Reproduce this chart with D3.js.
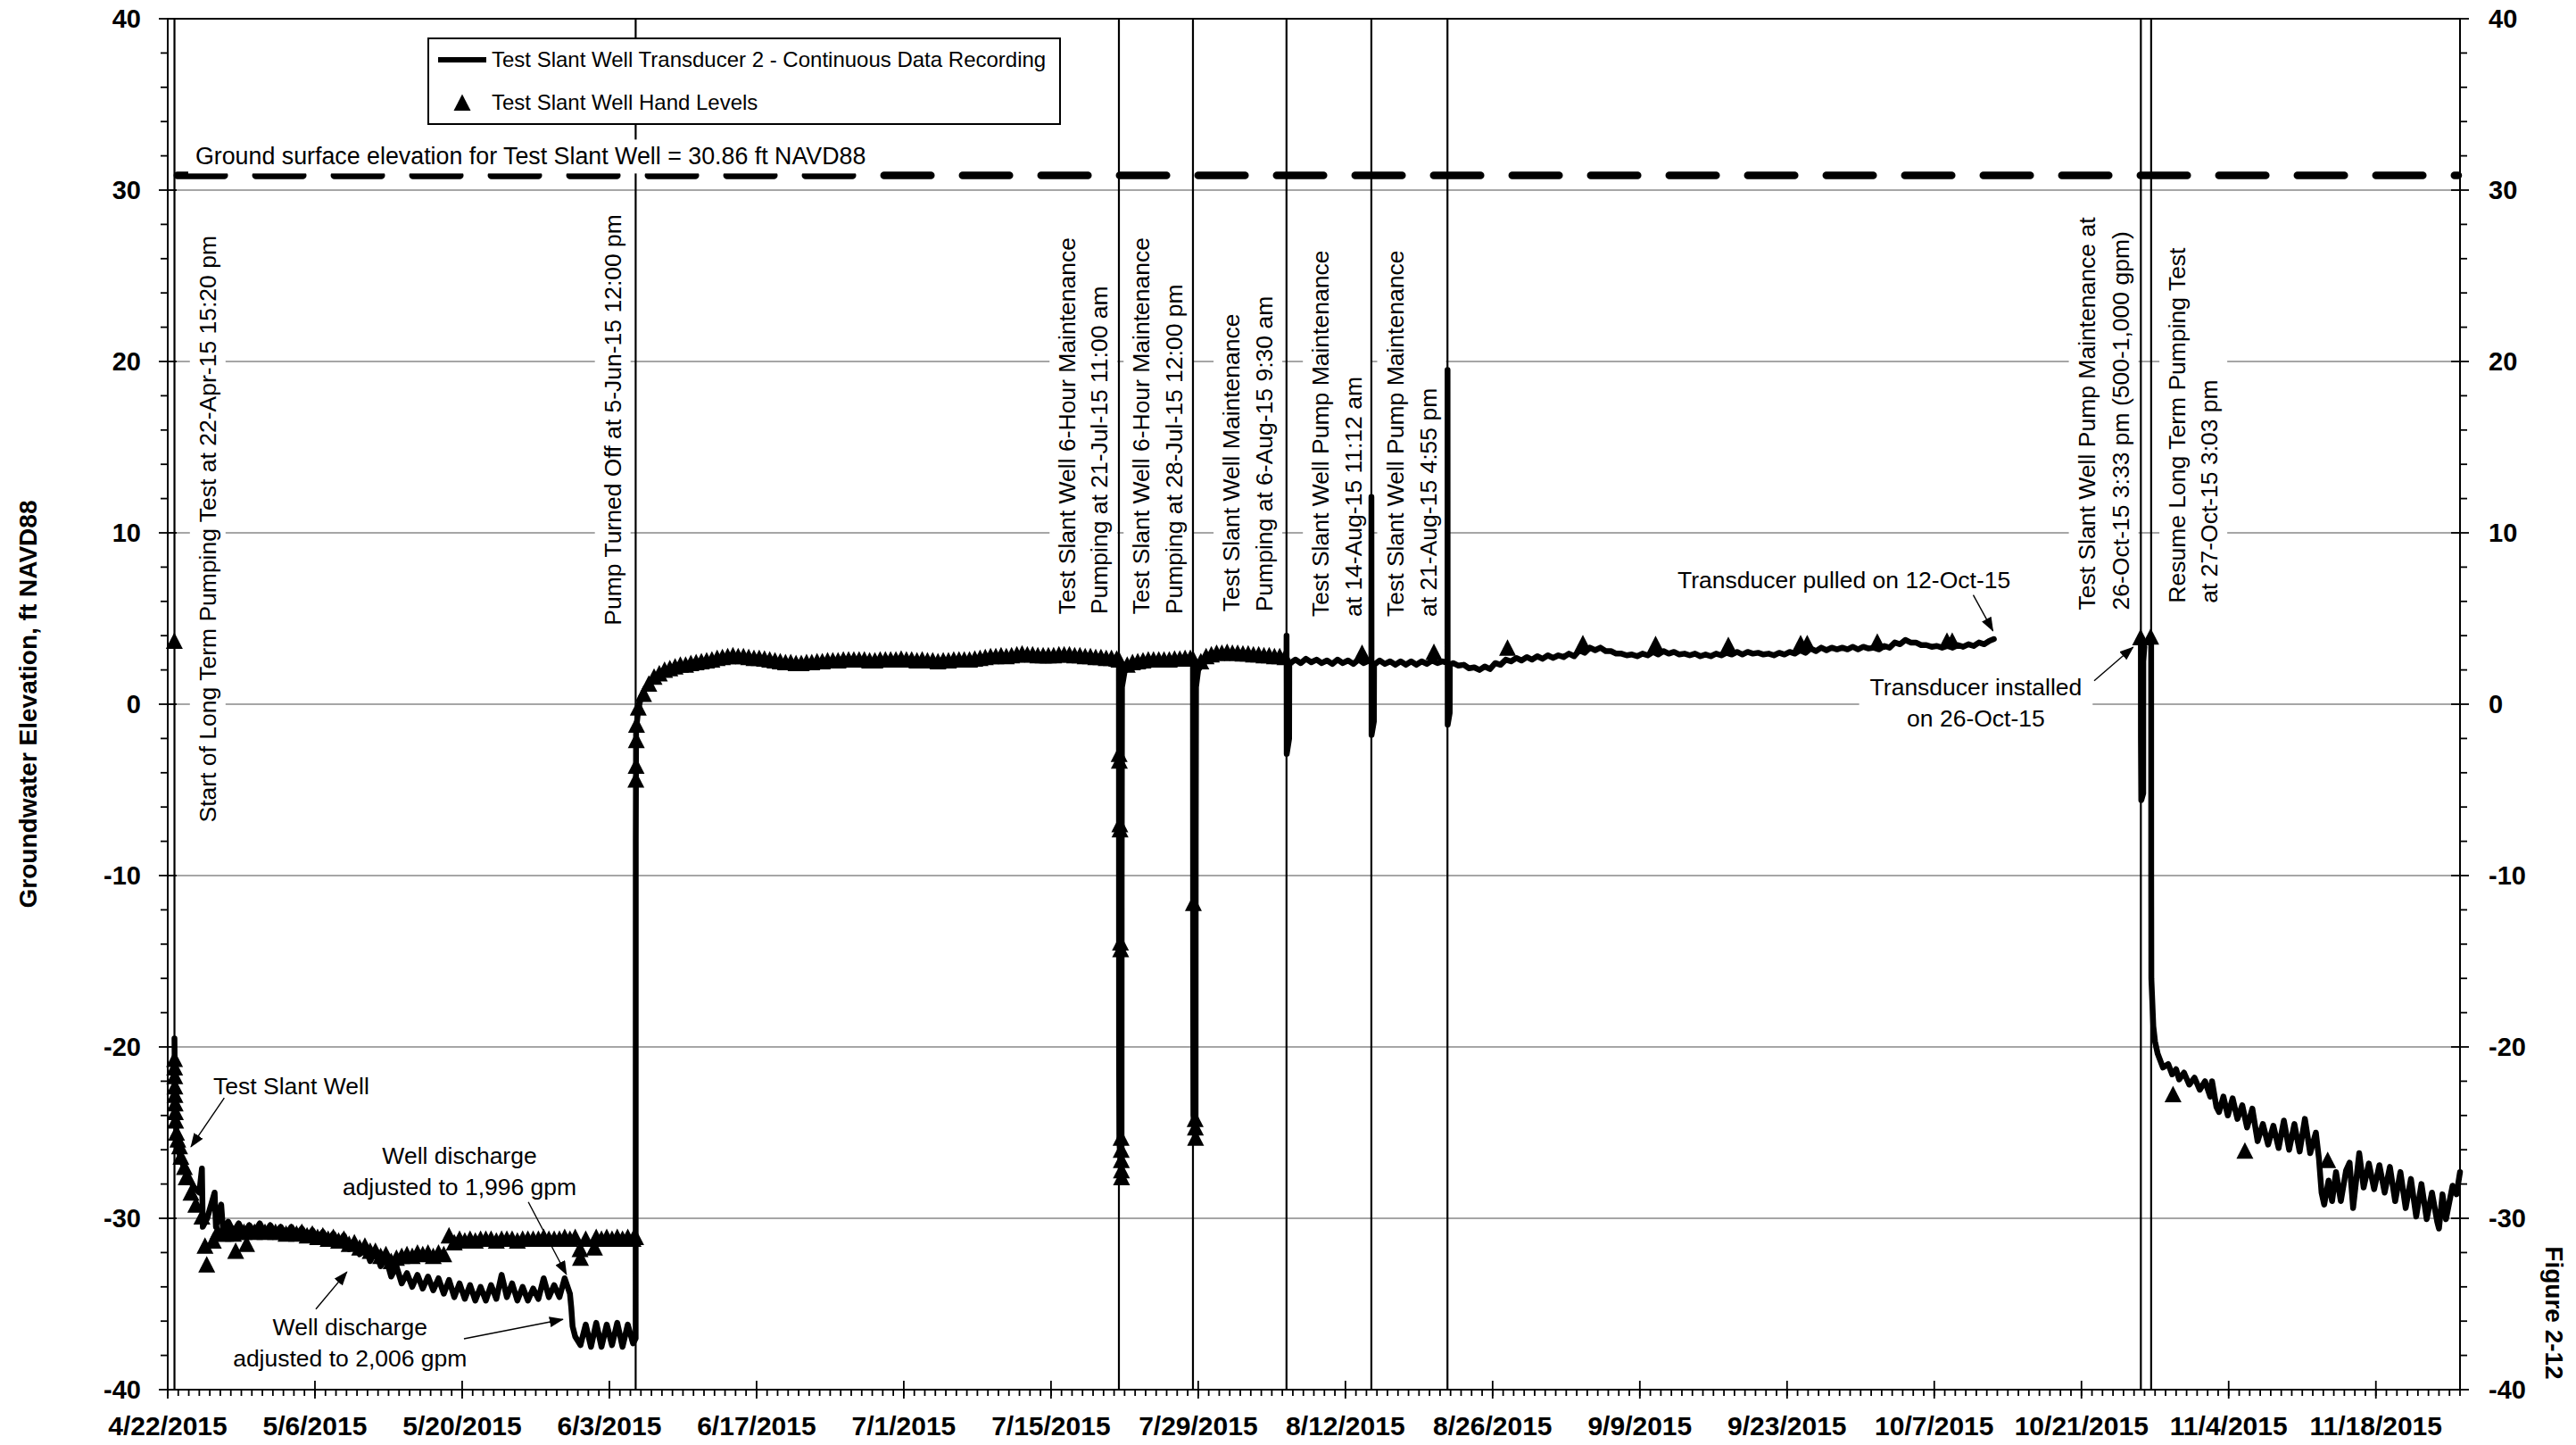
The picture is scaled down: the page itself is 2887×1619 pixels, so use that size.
<!DOCTYPE html>
<html><head><meta charset="utf-8">
<script src="https://cdn.jsdelivr.net/npm/d3@7"></script>
<style>
html,body{margin:0;padding:0;background:#fff;}
svg{display:block;}
text{font-family:"Liberation Sans",Arial,sans-serif;fill:#000;}
</style></head><body>
<svg id="chart" width="2887" height="1619"></svg>
<script>
// ---------------- DATA ----------------
const xDomain = ["4/22 00:00", "11/26 00:00"];
const yDomain = [-40, 40];
const yMajorTicks = [-40, -30, -20, -10, 0, 10, 20, 30, 40];
const xTickDates = ["4/22 00:00","5/6 00:00","5/20 00:00","6/3 00:00","6/17 00:00","7/1 00:00","7/15 00:00","7/29 00:00","8/12 00:00","8/26 00:00","9/9 00:00","9/23 00:00","10/7 00:00","10/21 00:00","11/4 00:00","11/18 00:00"];
const xTickLabels = ["4/22/2015","5/6/2015","5/20/2015","6/3/2015","6/17/2015","7/1/2015","7/15/2015","7/29/2015","8/12/2015","8/26/2015","9/9/2015","9/23/2015","10/7/2015","10/21/2015","11/4/2015","11/18/2015"];
const groundSurfaceElevation = 30.86;

// Test Slant Well Transducer 2 - continuous record, first deployment (to 12-Oct-15)
const transducerPart1 = [
["4/22 15:20",-19.5],["4/22 16:30",-23.5],["4/22 20:00",-25.0],
["4/23 00:00",-26.0],["4/23 12:00",-27.0],
["4/24 00:00",-27.6],["4/24 12:00",-28.2],
["4/25 00:00",-28.5],["4/25 06:00",-27.1],["4/25 08:00",-30.5],["4/25 18:00",-30.0],
["4/26 11:00",-28.5],["4/26 14:00",-30.5],
["4/27 02:00",-29.2],["4/27 06:00",-30.6],["4/27 18:00",-30.2],
["4/28 06:00",-30.8],["4/28 18:00",-30.3],
["4/29 06:00",-30.9],["4/29 18:00",-30.4],
["4/30 06:00",-30.8],["4/30 18:00",-30.3],
["5/1 06:00",-30.9],["5/1 18:00",-30.4],
["5/2 06:00",-30.9],["5/2 18:00",-30.5],
["5/3 06:00",-31.0],["5/3 18:00",-30.5],
["5/4 06:00",-31.0],["5/4 18:00",-30.6],
["5/5 06:00",-31.1],["5/5 18:00",-30.7],
["5/6 06:00",-31.2],["5/6 18:00",-30.8],
["5/7 06:00",-31.3],["5/7 18:00",-30.9],
["5/8 06:00",-31.5],["5/8 18:00",-31.0],
["5/9 06:00",-31.8],["5/9 18:00",-31.3],
["5/10 06:00",-32.1],["5/10 18:00",-31.6],
["5/11 06:00",-32.5],["5/11 18:00",-31.9],
["5/12 06:00",-32.8],["5/12 18:00",-32.3],
["5/13 06:00",-33.4],["5/13 18:00",-32.8],
["5/14 06:00",-33.8],["5/14 18:00",-33.2],
["5/15 06:00",-34.0],["5/15 18:00",-33.3],
["5/16 06:00",-34.1],["5/16 18:00",-33.4],
["5/17 06:00",-34.2],["5/17 18:00",-33.5],
["5/18 06:00",-34.4],["5/18 18:00",-33.6],
["5/19 06:00",-34.6],["5/19 18:00",-33.8],
["5/20 06:00",-34.7],["5/20 18:00",-33.9],
["5/21 06:00",-34.8],["5/21 18:00",-34.0],
["5/22 06:00",-34.8],["5/22 18:00",-33.9],
["5/23 06:00",-34.7],["5/23 18:00",-33.3],
["5/24 06:00",-34.6],["5/24 18:00",-33.8],
["5/25 06:00",-34.8],["5/25 18:00",-34.0],
["5/26 06:00",-34.8],["5/26 18:00",-34.1],
["5/27 06:00",-34.7],["5/27 18:00",-33.5],
["5/28 06:00",-34.6],["5/28 18:00",-33.9],
["5/29 06:00",-34.6],["5/29 18:00",-33.5],
["5/30 06:00",-34.4],["5/30 09:00",-35.2],["5/30 12:00",-36.3],["5/30 18:00",-36.9],
["5/31 06:00",-37.4],["5/31 18:00",-36.2],
["6/1 06:00",-37.5],["6/1 18:00",-36.1],
["6/2 06:00",-37.5],["6/2 18:00",-36.2],
["6/3 06:00",-37.4],["6/3 18:00",-36.1],
["6/4 06:00",-37.5],["6/4 18:00",-36.2],
["6/5 06:00",-37.3],["6/5 12:00",-37.0],["6/5 12:15",-8.0],["6/5 13:00",-1.5],["6/5 18:00",-0.3],
["6/6 00:00",0.4],["6/6 12:00",1.0],["6/7 00:00",1.4],["6/7 12:00",1.6],
["6/8 00:00",1.8],["6/8 12:00",1.9],["6/9 00:00",2.0],["6/9 12:00",2.0],
["6/10 00:00",2.1],["6/10 12:00",2.1],
["6/11 00:00",2.25],["6/12 00:00",2.35],["6/13 00:00",2.45],["6/14 00:00",2.55],["6/15 00:00",2.55],
["6/16 00:00",2.5],["6/17 00:00",2.45],["6/18 00:00",2.35],["6/19 00:00",2.25],["6/20 00:00",2.2],
["6/21 00:00",2.2],["6/22 00:00",2.25],["6/23 00:00",2.3],["6/24 00:00",2.35],["6/25 00:00",2.4],
["6/26 00:00",2.4],["6/27 00:00",2.4],["6/28 00:00",2.35],["6/29 00:00",2.35],["6/30 00:00",2.4],
["7/1 00:00",2.4],["7/2 00:00",2.35],["7/3 00:00",2.35],["7/4 00:00",2.3],["7/5 00:00",2.3],
["7/6 00:00",2.35],["7/7 00:00",2.35],["7/8 00:00",2.4],["7/9 00:00",2.55],["7/10 00:00",2.55],
["7/11 00:00",2.6],["7/12 00:00",2.6],["7/13 00:00",2.6],["7/14 00:00",2.55],["7/15 00:00",2.55],
["7/16 00:00",2.6],["7/17 00:00",2.6],["7/18 00:00",2.55],["7/19 00:00",2.5],["7/20 00:00",2.45],
["7/21 00:00",2.4],["7/21 11:00",2.35],["7/21 11:20",-20.0],["7/21 12:00",-25.5],["7/21 17:00",-27.8],["7/21 17:20",-10.0],["7/21 18:00",1.0],
["7/22 00:00",1.9],["7/22 12:00",2.2],["7/23 00:00",2.3],["7/24 00:00",2.35],["7/25 00:00",2.35],["7/26 00:00",2.4],["7/27 00:00",2.4],
["7/28 00:00",2.45],["7/28 12:00",2.45],["7/28 12:20",-15.0],["7/28 13:00",-24.0],["7/28 18:00",-25.4],["7/28 18:20",-8.0],["7/28 19:00",1.0],
["7/29 00:00",2.0],["7/29 12:00",2.4],["7/30 00:00",2.6],["7/31 00:00",2.75],["8/1 00:00",2.85],["8/2 00:00",2.8],["8/3 00:00",2.75],["8/4 00:00",2.7],["8/5 00:00",2.6],
["8/6 00:00",2.55],["8/6 09:30",2.5],["8/6 09:40",4.0],["8/6 10:00",-2.9],["8/6 15:30",-2.0],["8/6 15:50",2.3],["8/6 18:00",2.4],
["8/7 06:00",2.6],["8/7 18:00",2.4],["8/8 06:00",2.65],["8/8 18:00",2.45],
["8/9 06:00",2.6],["8/9 18:00",2.4],["8/10 06:00",2.55],["8/10 18:00",2.35],
["8/11 06:00",2.6],["8/11 18:00",2.4],["8/12 06:00",2.55],["8/12 18:00",2.35],
["8/13 06:00",2.6],["8/13 18:00",2.4],
["8/14 06:00",2.55],["8/14 11:12",2.5],["8/14 11:20",12.1],["8/14 11:40",-1.8],["8/14 17:00",-1.0],["8/14 17:20",2.3],
["8/15 06:00",2.55],["8/15 18:00",2.35],["8/16 06:00",2.5],["8/16 18:00",2.3],
["8/17 06:00",2.5],["8/17 18:00",2.3],["8/18 06:00",2.5],["8/18 18:00",2.3],
["8/19 06:00",2.5],["8/19 18:00",2.35],["8/20 06:00",2.55],["8/20 18:00",2.4],
["8/21 06:00",2.5],["8/21 16:55",2.4],["8/21 17:05",19.5],["8/21 17:25",-1.2],["8/21 22:00",-0.5],["8/21 22:20",2.3],
["8/22 06:00",2.4],["8/22 18:00",2.25],["8/23 06:00",2.3],["8/23 18:00",2.1],
["8/24 06:00",2.15],["8/24 18:00",2.0],["8/25 06:00",2.2],["8/25 18:00",2.05],
["8/26 06:00",2.4],["8/26 18:00",2.3],["8/27 06:00",2.6],["8/27 18:00",2.5],
["8/28 06:00",2.7],["8/28 18:00",2.55],["8/29 06:00",2.75],["8/29 18:00",2.6],
["8/30 06:00",2.8],["8/30 18:00",2.65],["8/31 06:00",2.85],["8/31 18:00",2.7],
["9/1 06:00",2.85],["9/1 18:00",2.75],["9/2 06:00",2.95],["9/2 18:00",2.8],
["9/3 06:00",3.15],["9/3 18:00",3.0],["9/4 06:00",3.3],["9/4 18:00",3.15],
["9/5 06:00",3.3],["9/5 18:00",3.1],["9/6 06:00",3.1],["9/6 18:00",2.95],
["9/7 06:00",2.95],["9/7 18:00",2.85],["9/8 06:00",2.9],["9/8 18:00",2.8],
["9/9 06:00",2.95],["9/9 18:00",2.85],["9/10 06:00",3.05],["9/10 18:00",2.9],
["9/11 06:00",3.1],["9/11 18:00",2.95],["9/12 06:00",3.05],["9/12 18:00",2.9],
["9/13 06:00",2.95],["9/13 18:00",2.85],["9/14 06:00",2.95],["9/14 18:00",2.8],
["9/15 06:00",2.9],["9/15 18:00",2.8],["9/16 06:00",2.95],["9/16 18:00",2.85],
["9/17 06:00",3.0],["9/17 18:00",2.9],["9/18 06:00",3.05],["9/18 18:00",2.9],
["9/19 06:00",3.05],["9/19 18:00",2.95],["9/20 06:00",3.0],["9/20 18:00",2.9],
["9/21 06:00",2.95],["9/21 18:00",2.85],["9/22 06:00",3.0],["9/22 18:00",2.9],
["9/23 06:00",3.05],["9/23 18:00",2.95],["9/24 06:00",3.15],["9/24 18:00",3.0],
["9/25 06:00",3.25],["9/25 18:00",3.1],["9/26 06:00",3.3],["9/26 18:00",3.15],
["9/27 06:00",3.3],["9/27 18:00",3.2],["9/28 06:00",3.3],["9/28 18:00",3.2],
["9/29 06:00",3.35],["9/29 18:00",3.2],["9/30 06:00",3.35],["9/30 18:00",3.25],
["10/1 06:00",3.3],["10/1 18:00",3.2],["10/2 06:00",3.4],["10/2 18:00",3.3],
["10/3 06:00",3.6],["10/3 18:00",3.5],["10/4 06:00",3.75],["10/4 18:00",3.6],
["10/5 06:00",3.6],["10/5 18:00",3.45],["10/6 06:00",3.45],["10/6 18:00",3.35],
["10/7 06:00",3.4],["10/7 18:00",3.3],["10/8 06:00",3.4],["10/8 18:00",3.3],
["10/9 06:00",3.45],["10/9 18:00",3.35],["10/10 06:00",3.5],["10/10 18:00",3.4],
["10/11 06:00",3.6],["10/11 18:00",3.5],["10/12 06:00",3.7],["10/12 16:00",3.8]
];

// second deployment (installed 26-Oct-15)
const transducerPart2 = [
["10/26 12:00",3.7],["10/26 15:33",3.8],["10/26 15:40",-2.0],["10/26 16:30",-5.6],["10/26 21:00",-5.2],["10/26 21:10",2.5],
["10/27 00:00",3.5],["10/27 12:00",3.8],["10/27 15:03",3.9],["10/27 15:10",-10.0],["10/27 15:30",-16.0],["10/27 20:00",-18.8],
["10/28 00:00",-19.7],["10/28 06:00",-20.4],["10/28 12:00",-20.8],["10/28 18:00",-21.2],
["10/29 06:00",-21.0],["10/29 15:00",-21.6],
["10/30 00:00",-21.3],["10/30 07:00",-21.9],["10/30 18:00",-21.5],
["10/31 06:00",-22.2],["10/31 18:00",-21.8],
["11/1 06:00",-22.5],["11/1 18:00",-22.0],
["11/2 06:00",-22.9],["11/2 10:00",-22.0],["11/2 20:00",-23.5],
["11/3 02:00",-23.8],["11/3 12:00",-22.9],["11/3 22:00",-24.0],
["11/4 09:00",-23.0],["11/4 20:00",-24.2],
["11/5 07:00",-23.4],["11/5 18:00",-24.7],
["11/6 06:00",-23.6],["11/6 18:00",-25.5],
["11/7 06:00",-24.5],["11/7 18:00",-25.7],
["11/8 06:00",-24.6],["11/8 18:00",-25.9],
["11/9 06:00",-24.3],["11/9 18:00",-26.0],
["11/10 06:00",-24.5],["11/10 18:00",-26.1],
["11/11 06:00",-24.2],["11/11 18:00",-26.2],
["11/12 07:00",-25.0],["11/12 14:00",-26.5],["11/12 20:00",-28.5],
["11/13 02:00",-29.2],["11/13 12:00",-27.8],["11/13 20:00",-29.0],
["11/14 05:00",-27.3],["11/14 16:00",-29.0],
["11/15 04:00",-27.2],["11/15 12:00",-26.75],["11/15 20:00",-29.4],
["11/16 10:00",-26.2],["11/16 20:00",-28.2],
["11/17 08:00",-26.8],["11/17 20:00",-28.3],
["11/18 08:00",-26.9],["11/18 20:00",-28.5],
["11/19 08:00",-27.0],["11/19 20:00",-29.0],
["11/20 08:00",-27.3],["11/20 20:00",-29.4],
["11/21 08:00",-27.7],["11/21 20:00",-29.9],
["11/22 08:00",-28.0],["11/22 20:00",-30.05],
["11/23 08:00",-28.5],["11/23 20:00",-30.2],
["11/24 00:00",-30.6],["11/24 08:00",-28.6],["11/24 16:00",-30.05],
["11/25 07:00",-28.1],["11/25 16:00",-28.6],
["11/26 00:00",-27.3]
];

// Test Slant Well hand levels
const handLevels = [
["4/22 15:00",3.7],
["4/22 15:30",-20.7],["4/22 15:45",-21.2],["4/22 16:00",-21.7],["4/22 16:15",-22.3],["4/22 16:30",-22.8],["4/22 17:00",-23.3],["4/22 17:30",-23.8],["4/22 18:00",-24.3],
["4/22 20:00",-25.0],["4/22 23:00",-25.4],["4/23 03:00",-25.8],["4/23 06:00",-26.4],["4/23 14:00",-27.0],["4/23 18:00",-27.6],
["4/24 05:00",-28.5],["4/24 16:00",-29.2],["4/25 06:00",-29.9],["4/25 13:00",-31.6],["4/25 17:00",-32.7],
["4/26 08:00",-31.3],["4/26 18:00",-30.8],["4/27 06:00",-30.9],["4/27 12:00",-30.9],["4/27 18:00",-30.7],
["4/28 06:00",-30.9],["4/28 11:00",-31.9],["4/28 18:00",-30.8],["4/29 06:00",-30.8],["4/29 12:00",-31.5],["4/29 18:00",-30.7],
["4/30 06:00",-30.8],["4/30 18:00",-30.7],["5/1 06:00",-30.8],["5/1 18:00",-30.7],
["5/2 06:00",-30.8],["5/2 18:00",-30.8],["5/3 06:00",-30.9],["5/3 18:00",-30.8],
["5/4 06:00",-30.9],["5/4 18:00",-30.8],["5/5 06:00",-31.0],["5/5 18:00",-30.9],
["5/6 06:00",-31.1],["5/6 18:00",-31.0],["5/7 06:00",-31.2],["5/7 18:00",-31.1],
["5/8 06:00",-31.3],["5/8 18:00",-31.2],["5/9 06:00",-31.5],["5/9 18:00",-31.4],
["5/10 06:00",-31.7],["5/10 18:00",-31.6],["5/11 06:00",-31.9],["5/11 18:00",-31.9],
["5/12 06:00",-32.2],["5/12 18:00",-32.1],["5/13 06:00",-32.5],["5/13 18:00",-32.3],
["5/14 06:00",-32.2],["5/14 18:00",-32.1],["5/15 06:00",-32.2],["5/15 18:00",-32.0],
["5/16 06:00",-32.1],["5/16 18:00",-32.0],["5/17 06:00",-32.2],["5/17 18:00",-32.0],
["5/18 06:00",-32.1],["5/18 18:00",-31.0],["5/19 06:00",-31.4],["5/19 18:00",-31.2],
["5/20 06:00",-31.3],["5/20 18:00",-31.2],["5/21 06:00",-31.3],["5/21 18:00",-31.2],
["5/22 06:00",-31.2],["5/22 18:00",-31.2],["5/23 06:00",-31.3],["5/23 18:00",-31.2],
["5/24 06:00",-31.2],["5/24 18:00",-31.2],["5/25 06:00",-31.3],["5/25 18:00",-31.2],
["5/26 06:00",-31.2],["5/26 18:00",-31.2],["5/27 06:00",-31.2],["5/27 18:00",-31.1],
["5/28 06:00",-31.2],["5/28 18:00",-31.2],["5/29 06:00",-31.2],["5/29 18:00",-31.1],
["5/30 06:00",-31.2],["5/30 18:00",-31.1],["5/31 05:00",-31.8],["5/31 06:00",-32.3],["5/31 18:00",-31.2],
["6/1 14:00",-31.7],["6/1 18:00",-31.1],["6/2 06:00",-31.2],["6/2 18:00",-31.1],
["6/3 06:00",-31.2],["6/3 18:00",-31.1],["6/4 06:00",-31.2],["6/4 18:00",-31.1],
["6/5 06:00",-31.2],["6/5 12:00",-31.1],
["6/5 12:30",-4.4],["6/5 13:00",-3.6],["6/5 13:30",-2.1],["6/5 14:00",-1.2],["6/5 18:00",-0.2],
["6/6 06:00",0.6],["6/6 18:00",1.2],["6/7 06:00",1.6],["6/7 18:00",1.8],
["6/8 06:00",2.0],["6/8 18:00",2.1],["6/9 06:00",2.2],["6/9 18:00",2.3],
["6/10 06:00",2.3],["6/10 18:00",2.4],["6/11 06:00",2.45],["6/11 18:00",2.5],
["6/12 06:00",2.55],["6/12 18:00",2.6],["6/13 06:00",2.7],["6/13 18:00",2.75],
["6/14 06:00",2.8],["6/14 18:00",2.85],["6/15 06:00",2.8],["6/15 18:00",2.8],
["6/16 06:00",2.75],["6/16 18:00",2.7],["6/17 06:00",2.7],["6/17 18:00",2.65],
["6/18 06:00",2.6],["6/18 18:00",2.55],["6/19 06:00",2.5],["6/19 18:00",2.45],
["6/20 06:00",2.45],["6/20 18:00",2.4],["6/21 06:00",2.4],["6/21 18:00",2.45],
["6/22 06:00",2.45],["6/22 18:00",2.5],["6/23 06:00",2.5],["6/23 18:00",2.55],
["6/24 06:00",2.55],["6/24 18:00",2.55],["6/25 06:00",2.6],["6/25 18:00",2.6],
["6/26 06:00",2.6],["6/26 18:00",2.6],["6/27 06:00",2.6],["6/27 18:00",2.55],
["6/28 06:00",2.55],["6/28 18:00",2.6],["6/29 06:00",2.6],["6/29 18:00",2.6],
["6/30 06:00",2.6],["6/30 18:00",2.65],["7/1 06:00",2.6],["7/1 18:00",2.6],
["7/2 06:00",2.55],["7/2 18:00",2.6],["7/3 06:00",2.55],["7/3 18:00",2.55],
["7/4 06:00",2.5],["7/4 18:00",2.55],["7/5 06:00",2.55],["7/5 18:00",2.6],
["7/6 06:00",2.6],["7/6 18:00",2.6],["7/7 06:00",2.6],["7/7 18:00",2.65],
["7/8 06:00",2.7],["7/8 18:00",2.75],["7/9 06:00",2.8],["7/9 18:00",2.8],
["7/10 06:00",2.85],["7/10 18:00",2.8],["7/11 06:00",2.85],["7/11 18:00",2.9],
["7/12 06:00",2.95],["7/12 18:00",2.9],["7/13 06:00",2.9],["7/13 18:00",2.85],
["7/14 06:00",2.85],["7/14 18:00",2.85],["7/15 06:00",2.85],["7/15 18:00",2.9],
["7/16 06:00",2.9],["7/16 18:00",2.9],["7/17 06:00",2.85],["7/17 18:00",2.85],
["7/18 06:00",2.8],["7/18 18:00",2.8],["7/19 06:00",2.75],["7/19 18:00",2.75],
["7/20 06:00",2.7],["7/20 18:00",2.7],["7/21 06:00",2.65],["7/21 11:00",2.6],
["7/21 11:30",-2.9],["7/21 12:00",-3.3],["7/21 13:00",-7.0],["7/21 13:30",-7.3],["7/21 14:30",-13.9],["7/21 15:00",-14.3],
["7/21 16:00",-25.3],["7/21 16:15",-26.0],["7/21 16:30",-26.6],["7/21 16:45",-27.2],["7/21 17:00",-27.6],
["7/22 06:00",2.3],["7/22 18:00",2.45],["7/23 06:00",2.5],["7/23 18:00",2.55],
["7/24 06:00",2.6],["7/24 18:00",2.6],["7/25 06:00",2.6],["7/25 18:00",2.6],
["7/26 06:00",2.6],["7/26 18:00",2.65],["7/27 06:00",2.65],["7/27 18:00",2.7],
["7/28 06:00",2.7],["7/28 12:00",2.65],
["7/28 13:00",-11.6],["7/28 17:00",-24.2],["7/28 17:30",-24.7],["7/28 18:00",-25.3],
["7/29 06:00",2.5],["7/29 18:00",2.8],["7/30 06:00",2.9],["7/30 18:00",3.0],
["7/31 06:00",3.0],["7/31 18:00",3.05],["8/1 06:00",3.0],["8/1 18:00",3.0],
["8/2 06:00",2.95],["8/2 18:00",2.95],["8/3 06:00",2.9],["8/3 18:00",2.9],
["8/4 06:00",2.85],["8/4 18:00",2.85],["8/5 06:00",2.8],["8/5 18:00",2.8],
["8/6 06:00",2.75],
["8/13 14:00",3.0],["8/20 10:00",3.05],["8/27 10:00",3.3],["9/3 14:00",3.55],
["9/10 12:00",3.5],["9/17 10:00",3.45],["9/24 07:00",3.55],["9/24 22:00",3.55],
["10/1 14:00",3.65],["10/8 05:00",3.7],["10/8 17:00",3.7],
["10/26 15:00",3.9],["10/27 14:00",3.95],
["10/29 17:00",-22.76],["11/5 13:00",-26.05],["11/13 10:00",-26.6]
];

// Pumping events (vertical lines) and their labels
const eventTimes = ["4/22 15:20","6/5 12:00","7/21 11:00","7/28 12:00","8/6 09:30","8/14 11:12","8/21 16:55","10/26 15:33","10/27 15:03"];
const eventLabels = [
  ["Start of Long Term Pumping Test at 22-Apr-15 15:20 pm"],
  ["Pump Turned Off at 5-Jun-15 12:00 pm"],
  ["Test Slant Well 6-Hour Maintenance","Pumping at 21-Jul-15 11:00 am"],
  ["Test Slant Well 6-Hour Maintenance","Pumping at 28-Jul-15 12:00 pm"],
  ["Test Slant Well Maintenance","Pumping at 6-Aug-15 9:30 am"],
  ["Test Slant Well Pump Maintenance","at 14-Aug-15 11:12 am"],
  ["Test Slant Well Pump Maintenance","at 21-Aug-15 4:55 pm"],
  ["Test Slant Well Pump Maintenance at","26-Oct-15 3:33 pm (500-1,000 gpm)"],
  ["Resume Long Term Pumping Test","at 27-Oct-15 3:03 pm"]
];
const eventLabelStartLevels = [-6.9, 4.6, 5.25, 5.25, 5.4, 5.1, 5.1, 5.5, 5.9];

// Callout notes (text centre in data units) and arrows
const noteTexts = [["Test Slant Well"],["Well discharge","adjusted to 1,996 gpm"],["Well discharge","adjusted to 2,006 gpm"],["Transducer pulled on 12-Oct-15"],["Transducer installed","on 26-Oct-15"]];
const noteTimes = ["5/3 18:00","5/19 18:00","5/9 08:00","9/28 10:00","10/10 23:00"];
const noteLevels = [-22.3, -26.35, -36.34, 7.24, 0.99];
const arrowFrom = [["4/27 09:00",-22.97],["5/26 07:00",-29.05],["5/6 02:00",-35.3],["5/20 04:00",-37.03],["10/10 17:00",6.37],["10/22 05:00",1.37]];
const arrowTo   = [["4/24 05:00",-25.83],["5/29 22:00",-33.28],["5/9 01:00",-33.13],["5/29 14:00",-35.9],["10/12 14:00",4.28],["10/25 22:00",3.33]];

const legendLabels = ["Test Slant Well Transducer 2 - Continuous Data Recording","Test Slant Well Hand Levels"];
const groundLabel = "Ground surface elevation for Test Slant Well = 30.86 ft NAVD88";
const yTitle = "Groundwater Elevation, ft NAVD88";
const figureLabel = "Figure 2-12";

// ---------------- LAYOUT ----------------
const parseT = s => { const [md, hm] = s.split(" "); const [m, d] = md.split("/").map(Number); const [h, mi] = hm.split(":").map(Number); return new Date(Date.UTC(2015, m - 1, d, h, mi)); };
const P = {left: 188, right: 2757, top: 21, bottom: 1557};
const x = d3.scaleUtc().domain(xDomain.map(parseT)).range([P.left, P.right]);
const y = d3.scaleLinear().domain(yDomain).range([P.bottom, P.top]);
const svg = d3.select("#chart");
svg.append("rect").attr("width", 2887).attr("height", 1619).attr("fill", "#fff");

const defs = svg.append("defs");
defs.append("marker").attr("id", "ah").attr("markerUnits", "userSpaceOnUse")
  .attr("markerWidth", 16).attr("markerHeight", 12).attr("refX", 15).attr("refY", 6).attr("orient", "auto")
  .append("path").attr("d", "M0,0 L16,6 L0,12 Z").attr("fill", "#000");

// gridlines
svg.append("g").selectAll("line").data(yMajorTicks.filter(v => v > -40 && v < 40)).join("line")
  .attr("x1", P.left).attr("x2", P.right).attr("y1", d => y(d)).attr("y2", d => y(d))
  .attr("stroke", "#a6a6a6").attr("stroke-width", 1.8);

// rotated event labels with white boxes
const labelOffsets = [[37], [-26], [-58, -22], [-58, -21], [-62, -25], [-57, -20], [-59, -22], [-61, -23], [29, 65]];
const lblLayer = svg.append("g");
eventTimes.forEach((t, i) => {
  const g = lblLayer.append("g").attr("transform", `translate(${x(parseT(t))},${y(eventLabelStartLevels[i])}) rotate(-90)`);
  const bg = g.append("rect").attr("fill", "#fff");
  const texts = eventLabels[i].map((ln, j) => g.append("text").attr("x", 0).attr("y", labelOffsets[i][j]).attr("dy", "0.35em")
    .attr("font-size", 26.5).text(ln));
  let x0 = Infinity, y0 = Infinity, x1 = -Infinity, y1 = -Infinity;
  texts.forEach(tx => { const b = tx.node().getBBox(); x0 = Math.min(x0, b.x); y0 = Math.min(y0, b.y); x1 = Math.max(x1, b.x + b.width); y1 = Math.max(y1, b.y + b.height); });
  bg.attr("x", x0 - 10).attr("y", y0 - 5).attr("width", x1 - x0 + 20).attr("height", y1 - y0 + 10);
});

// callout notes
const noteLayer = svg.append("g");
noteTexts.forEach((lines, i) => {
  const g = noteLayer.append("g").attr("transform", `translate(${x(parseT(noteTimes[i]))},${y(noteLevels[i])})`);
  const bg = g.append("rect").attr("fill", "#fff");
  const texts = lines.map((ln, j) => g.append("text").attr("x", 0).attr("y", j * 35).attr("dy", "0.35em")
    .attr("text-anchor", "middle").attr("font-size", 26.5).text(ln));
  let x0 = Infinity, y0 = Infinity, x1 = -Infinity, y1 = -Infinity;
  texts.forEach(tx => { const b = tx.node().getBBox(); x0 = Math.min(x0, b.x); y0 = Math.min(y0, b.y); x1 = Math.max(x1, b.x + b.width); y1 = Math.max(y1, b.y + b.height); });
  bg.attr("x", x0 - 12).attr("y", y0 - 3).attr("width", x1 - x0 + 24).attr("height", y1 - y0 + 6);
});

// event vertical lines
svg.append("g").selectAll("line").data(eventTimes).join("line")
  .attr("x1", d => x(parseT(d))).attr("x2", d => x(parseT(d))).attr("y1", P.top).attr("y2", P.bottom)
  .attr("stroke", "#000").attr("stroke-width", 2.2);

// ground surface dashed line
svg.append("line").attr("x1", x(parseT("4/22 22:00"))).attr("x2", P.right - 2)
  .attr("y1", y(groundSurfaceElevation)).attr("y2", y(groundSurfaceElevation))
  .attr("stroke", "#000").attr("stroke-width", 8.5).attr("stroke-linecap", "round").attr("stroke-dasharray", "52.5 35.5");

// transducer line
const lineGen = d3.line().x(d => x(parseT(d[0]))).y(d => y(d[1]));
[transducerPart1, transducerPart2].forEach(seg => {
  svg.append("path").attr("d", lineGen(seg)).attr("fill", "none").attr("stroke", "#000")
    .attr("stroke-width", 6.5).attr("stroke-linejoin", "round").attr("stroke-linecap", "round");
});

// hand level triangles
const tri = "M0,-9.5 L9.5,9 L-9.5,9 Z";
svg.append("g").selectAll("path").data(handLevels).join("path")
  .attr("transform", d => `translate(${x(parseT(d[0]))},${y(d[1])})`).attr("d", tri).attr("fill", "#000");

// arrows
svg.append("g").selectAll("line").data(arrowFrom.map((f, i) => [f, arrowTo[i]])).join("line")
  .attr("x1", d => x(parseT(d[0][0]))).attr("y1", d => y(d[0][1]))
  .attr("x2", d => x(parseT(d[1][0]))).attr("y2", d => y(d[1][1]))
  .attr("stroke", "#000").attr("stroke-width", 1.4).attr("marker-end", "url(#ah)");

// ground surface label
{
  const g = svg.append("g");
  const bg = g.append("rect").attr("fill", "#fff");
  const t = g.append("text").attr("x", x(parseT("4/24 15:00"))).attr("y", y(31.98)).attr("dy", "0.35em")
    .attr("font-size", 26.8).text(groundLabel);
  const b = t.node().getBBox();
  bg.attr("x", b.x - 8).attr("y", b.y - 4).attr("width", b.width + 16).attr("height", b.height + 8);
}

// legend
{
  const g = svg.append("g");
  g.append("rect").attr("x", 480).attr("y", 43).attr("width", 708).attr("height", 96)
    .attr("fill", "#fff").attr("stroke", "#000").attr("stroke-width", 2);
  g.append("line").attr("x1", 491).attr("x2", 545).attr("y1", 67).attr("y2", 67).attr("stroke", "#000").attr("stroke-width", 6);
  g.append("path").attr("transform", "translate(518,115)").attr("d", tri).attr("fill", "#000");
  legendLabels.forEach((l, i) => g.append("text").attr("x", 551).attr("y", 67 + i * 48).attr("dy", "0.35em").attr("font-size", 24).text(l));
}

// axes frame
svg.append("rect").attr("x", P.left).attr("y", P.top).attr("width", P.right - P.left).attr("height", P.bottom - P.top)
  .attr("fill", "none").attr("stroke", "#000").attr("stroke-width", 2);

const ax = svg.append("g").attr("stroke", "#000").attr("stroke-width", 1.8);
const yMinor = d3.range(-40, 41, 2).filter(v => v % 10 !== 0);
yMajorTicks.forEach(v => {
  ax.append("line").attr("x1", P.left - 10).attr("x2", P.left + 10).attr("y1", y(v)).attr("y2", y(v));
  ax.append("line").attr("x1", P.right - 10).attr("x2", P.right + 10).attr("y1", y(v)).attr("y2", y(v));
});
yMinor.forEach(v => {
  ax.append("line").attr("x1", P.left - 8).attr("x2", P.left).attr("y1", y(v)).attr("y2", y(v));
  ax.append("line").attr("x1", P.right).attr("x2", P.right + 8).attr("y1", y(v)).attr("y2", y(v));
});
d3.utcDay.range(x.domain()[0], d3.utcDay.offset(x.domain()[1], 1)).forEach(d => {
  ax.append("line").attr("x1", x(d)).attr("x2", x(d)).attr("y1", P.bottom).attr("y2", P.bottom + 7);
});
xTickDates.forEach(d => {
  ax.append("line").attr("x1", x(parseT(d))).attr("x2", x(parseT(d))).attr("y1", P.bottom - 10).attr("y2", P.bottom + 10);
});

// tick labels
const lab = svg.append("g").attr("font-weight", "bold");
yMajorTicks.forEach(v => {
  lab.append("text").attr("x", P.left - 30).attr("y", y(v)).attr("dy", "0.35em").attr("text-anchor", "end").attr("font-size", 29).text(v);
  lab.append("text").attr("x", P.right + 32).attr("y", y(v)).attr("dy", "0.35em").attr("text-anchor", "start").attr("font-size", 29).text(v);
});
xTickDates.forEach((d, i) => {
  lab.append("text").attr("x", x(parseT(d))).attr("y", 1608).attr("text-anchor", "middle").attr("font-size", 30).text(xTickLabels[i]);
});
lab.append("text").attr("transform", `translate(31,${(P.top + P.bottom) / 2}) rotate(-90)`).attr("dy", "0.35em")
  .attr("text-anchor", "middle").attr("font-size", 28).text(yTitle);
lab.append("text").attr("transform", `translate(2863,1471) rotate(90)`).attr("dy", "0.35em")
  .attr("text-anchor", "middle").attr("font-size", 28).text(figureLabel);
</script>
</body></html>
